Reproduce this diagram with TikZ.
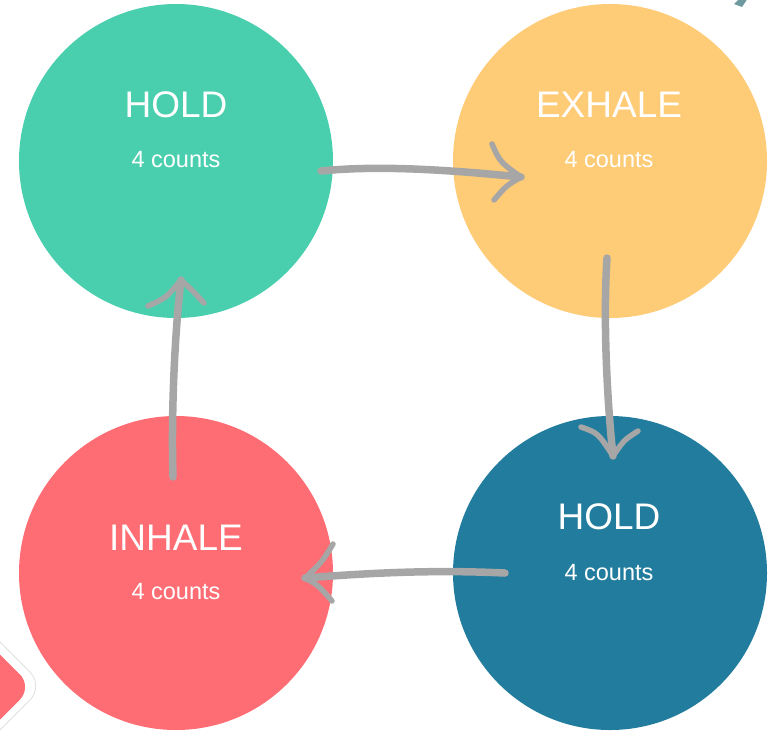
\documentclass[tikz,border=0pt]{standalone}
\usepackage{fontspec}
\setmainfont{Liberation Sans}
\definecolor{cteal}{HTML}{4ACFAE}
\definecolor{corange}{HTML}{FECB77}
\definecolor{cblue}{HTML}{227C9D}
\definecolor{cred}{HTML}{FE6D73}
\definecolor{carrow}{HTML}{A6A6A6}
\definecolor{cfrag}{HTML}{6F9A9F}
\begin{document}
\begin{tikzpicture}[x=1pt,y=-1pt,
  bubble/.style={circle,minimum size=314pt,inner sep=0pt,draw=none},
  title/.style={text=white,font=\fontsize{37}{37}\selectfont,anchor=base},
  sub/.style={text=white,font=\fontsize{23.5}{23.5}\selectfont,anchor=base},
  shaft/.style={draw=carrow,line width=7.5pt,line cap=round},
  barb/.style={draw=carrow,line width=5.5pt,line cap=round}]
\useasboundingbox (0,0) rectangle (776,732);
% fragments at corners
\fill[cfrag] (734,4) -- (740,-2) -- (748,-2) -- (742,7) -- cycle;
\filldraw[fill=white,draw=white!88!black,line width=0.8pt,rounded corners=20pt] (-20,622) -- (44,686) -- (-20,750) -- (-84,686) -- cycle;
\fill[cred,rounded corners=18pt] (-20,634.5) -- (32.5,687) -- (-20,739.5) -- (-72.5,687) -- cycle;
% circles
\node[bubble,fill=cteal] (c1) at (176,161) {};
\node[bubble,fill=corange] (c2) at (610,161) {};
\node[bubble,fill=cblue] (c3) at (610,573) {};
\node[bubble,fill=cred] (c4) at (176,573) {};
% texts
\node[title] (t1) at (176,117) {HOLD};
\node[sub] (s1) at (176,167) {4 counts};
\node[title] (t2) at (609,117) {EXHALE};
\node[sub] (s2) at (609,167) {4 counts};
\node[title] (t3) at (609,529) {HOLD};
\node[sub] (s3) at (609,580) {4 counts};
\node[title] (t4) at (176,550) {INHALE};
\node[sub] (s4) at (176,599) {4 counts};
% arrow coordinates
\coordinate (a1s) at (321,171);
\coordinate (a1t) at (521,177);
\coordinate (a2s) at (607,258);
\coordinate (a2t) at (613,456);
\coordinate (a3s) at (505,573);
\coordinate (a3t) at (305,578);
\coordinate (a4s) at (173,477);
\coordinate (a4t) at (181,280);
% arrow 1
\draw[shaft] (a1s) .. controls (380,165) and (450,170) .. (a1t);
\draw[barb] (492,144) .. controls (500,162) .. (a1t);
\draw[barb] (494,200) .. controls (506,186) .. (a1t);
% arrow 2
\draw[shaft] (a2s) .. controls (603,320) and (607,400) .. (a2t);
\draw[barb] (581,427) .. controls (598,433) .. (a2t);
\draw[barb] (638,431) .. controls (624,440) .. (a2t);
% arrow 3
\draw[shaft] (a3s) .. controls (440,570) and (380,572) .. (a3t);
\draw[barb] (333,544) .. controls (322,562) .. (a3t);
\draw[barb] (332,601) .. controls (318,585) .. (a3t);
% arrow 4
\draw[shaft] (a4s) .. controls (171,410) and (175,330) .. (a4t);
\draw[barb] (148,306) .. controls (166,298) .. (a4t);
\draw[barb] (204,303) .. controls (192,290) .. (a4t);
\end{tikzpicture}
\end{document}
